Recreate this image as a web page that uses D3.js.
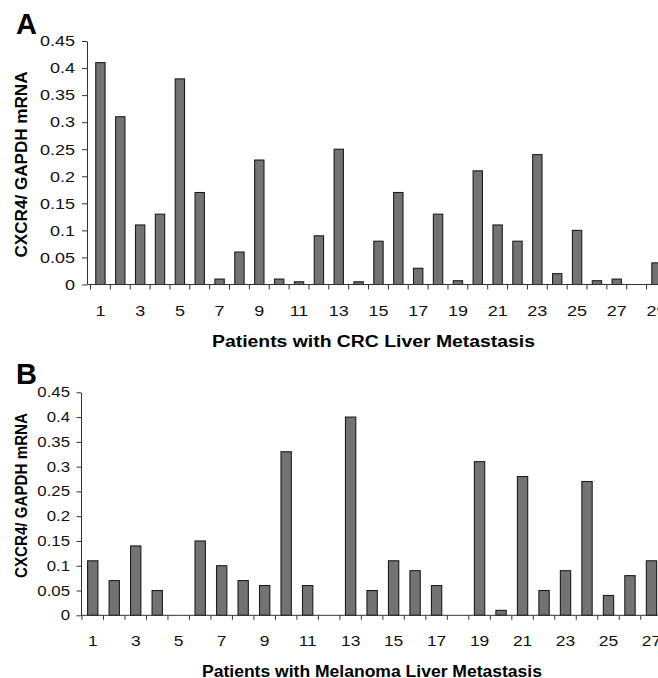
<!DOCTYPE html>
<html>
<head>
<meta charset="utf-8">
<script src="https://cdn.jsdelivr.net/npm/d3@7"></script>
<style>
  html, body { margin: 0; padding: 0; background: #fff; }
  svg { display: block; font-family: "Liberation Sans", Arial, sans-serif; }
  .axis path, .axis line { stroke: #333; }
  .axis text { fill: #111; }
</style>
</head>
<body>
<div id="chart"></div>
<script>
// panel A: CRC liver metastasis
const patientsA = [1, 2, 3, 4, 5, 6, 7, 8, 9, 10, 11, 12, 13, 14, 15, 16, 17, 18, 19, 20, 21, 22, 23, 24, 25, 26, 27, 28, 29];
const valuesA = [0.41, 0.31, 0.11, 0.13, 0.38, 0.17, 0.01, 0.06, 0.23, 0.01, 0.005, 0.09, 0.25, 0.005, 0.08,
                 0.17, 0.03, 0.13, 0.007, 0.21, 0.11, 0.08, 0.24, 0.02, 0.1, 0.007, 0.01, 0, 0.04];
const tickLabelsA = [1, 3, 5, 7, 9, 11, 13, 15, 17, 19, 21, 23, 25, 27, 29];

// panel B: melanoma liver metastasis
const patientsB = [1, 2, 3, 4, 5, 6, 7, 8, 9, 10, 11, 12, 13, 14, 15, 16, 17, 18, 19, 20, 21, 22, 23, 24, 25, 26, 27];
const valuesB = [0.11, 0.07, 0.14, 0.05, 0, 0.15, 0.1, 0.07, 0.06, 0.33, 0.06, 0, 0.4, 0.05, 0.11,
                 0.09, 0.06, 0, 0.31, 0.01, 0.28, 0.05, 0.09, 0.27, 0.04, 0.08, 0.11];
const tickLabelsB = [1, 3, 5, 7, 9, 11, 13, 15, 17, 19, 21, 23, 25, 27];

const yTicks = [0, 0.05, 0.1, 0.15, 0.2, 0.25, 0.3, 0.35, 0.4, 0.45];
const yTitle = 'CXCR4/ GAPDH mRNA';

// the original figure is stretched sideways a bit
const STRETCH = 1.2;

const svg = d3.select('#chart').append('svg')
    .attr('width', 658)
    .attr('height', 678);

/**
 * Draw one panel
 * @param {Object} p layout of the panel
 */
const drawPanel = (p) => {
    const g = svg.append('g');

    const x = d3.scaleBand()
        .domain(p.patients)
        .range([p.left, p.left + p.step * p.patients.length]);

    const y = d3.scaleLinear()
        .domain([0, 0.45])
        .range([p.bottom, p.top]);

    const barW = x.bandwidth() * p.barFrac;

    // bars
    g.selectAll('.bar')
        .data(p.values.map((v, i) => ({k: p.patients[i], v: v})))
        .enter()
        .append('rect')
        .attr('class', 'bar')
        .attr('x', d => x(d.k) + (x.bandwidth() - barW) / 2)
        .attr('y', d => y(d.v))
        .attr('width', barW)
        .attr('height', d => p.bottom - y(d.v))
        .attr('fill', '#737373')
        .attr('stroke', '#1c1c1c')
        .attr('stroke-width', 1.1);

    // y axis
    const ya = g.append('g')
        .attr('class', 'axis')
        .attr('transform', `translate(${p.axisX},0)`)
        .call(d3.axisLeft(y)
            .tickValues(yTicks)
            .tickSize(p.tickLen)
            .tickPadding(p.yPad)
            .tickSizeOuter(0)
            .tickFormat(d => String(+d.toFixed(2))));
    ya.selectAll('text')
        .attr('x', -(p.tickLen + p.yPad) / STRETCH)
        .attr('transform', `scale(${STRETCH},1)`)
        .style('font-size', p.yFont + 'px');

    // x axis line
    g.append('line')
        .attr('x1', p.axisX).attr('x2', 658)
        .attr('y1', p.bottom).attr('y2', p.bottom)
        .attr('stroke', '#333');

    // tick marks on category boundaries
    g.selectAll('.xtick')
        .data(p.patients)
        .enter()
        .append('line')
        .attr('class', 'xtick')
        .attr('x1', d => x(d)).attr('x2', d => x(d))
        .attr('y1', p.bottom).attr('y2', p.bottom + p.tickLen)
        .attr('stroke', '#333');

    // x labels
    const xa = g.append('g')
        .attr('class', 'axis')
        .attr('transform', `translate(0,${p.bottom})`)
        .call(d3.axisBottom(x)
            .tickValues(p.labels)
            .tickSize(0)
            .tickPadding(p.xPad));
    xa.select('.domain').remove();
    xa.selectAll('text')
        .attr('transform', `scale(${STRETCH},1)`)
        .style('font-size', p.xFont + 'px');

    // x title
    g.append('text')
        .attr('x', p.titleX)
        .attr('y', p.titleY)
        .attr('text-anchor', 'middle')
        .attr('textLength', p.titleLen)
        .attr('lengthAdjust', 'spacingAndGlyphs')
        .style('font-size', '16px')
        .style('font-weight', 'bold')
        .text(p.title);

    // y title
    g.append('text')
        .attr('transform', `translate(27,${p.yTitleY}) rotate(-90) scale(1,${STRETCH})`)
        .attr('text-anchor', 'middle')
        .attr('textLength', p.yTitleLen)
        .attr('lengthAdjust', 'spacingAndGlyphs')
        .style('font-size', p.yTitleFont + 'px')
        .style('font-weight', 'bold')
        .text(yTitle);

    // panel letter
    g.append('text')
        .attr('x', 16)
        .attr('y', p.letterY)
        .style('font-size', '29px')
        .style('font-weight', 'bold')
        .text(p.letter);
};

drawPanel({
    patients: patientsA, values: valuesA, labels: tickLabelsA,
    left: 90.5, step: 19.86, barFrac: 0.47,
    axisX: 87, top: 41, bottom: 284.5,
    tickLen: 5, yPad: 7, yFont: 15, xPad: 20.5, xFont: 15,
    title: 'Patients with CRC Liver Metastasis', titleX: 373.5, titleY: 347, titleLen: 323,
    yTitleY: 164.5, yTitleLen: 186, yTitleFont: 14.5,
    letter: 'A', letterY: 34
});

drawPanel({
    patients: patientsB, values: valuesB, labels: tickLabelsB,
    left: 82, step: 21.49, barFrac: 0.48,
    axisX: 81, top: 392.3, bottom: 615.3,
    tickLen: 4.5, yPad: 6.5, yFont: 14, xPad: 20, xFont: 14.5,
    title: 'Patients with Melanoma Liver Metastasis', titleX: 372, titleY: 676.5, titleLen: 340,
    yTitleY: 495.5, yTitleLen: 165, yTitleFont: 13.5,
    letter: 'B', letterY: 384
});
</script>
</body>
</html>
